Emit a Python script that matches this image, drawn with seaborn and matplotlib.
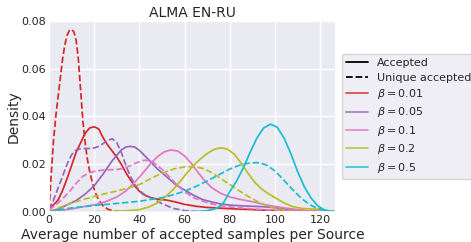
import pandas as pd
import matplotlib
matplotlib.use('Agg')
import matplotlib.pyplot as plt
from matplotlib.lines import Line2D
import seaborn as sns

# curves (density vs avg number of accepted samples)
betas = ['0.01', '0.05', '0.1', '0.2', '0.5']
colors = ['#d62728', '#9467bd', '#e377c2', '#bcbd22', '#17becf']

# beta = 0.01
acc_001_x = [0, 2, 4, 6, 8, 10, 12, 14, 16, 18, 20, 22, 24, 26, 28, 30, 32, 34, 36, 38, 40, 42, 45, 48, 52,
             56, 60, 65, 70, 80, 90, 100, 110, 120, 127]
acc_001_y = [.0015, .003, .005, .009, .014, .0195, .025, .029, .033, .0352, .0357, .0348, .031, .028, .0255, .023,
             .020, .0165, .0135, .0108, .0087, .0072, .006, .0054, .005, .0042, .0032, .0024, .0019, .0014, .001,
             .0006, .0003, .0001, 0]
uniq_001_x = [0, 1, 2, 3, 4, 5, 6, 7, 8, 9, 10, 11, 12, 13, 14, 15, 16, 17, 18, 19, 20, 21, 22, 24, 26, 28, 30, 35]
uniq_001_y = [.001, .016, .030, .040, .048, .056, .064, .070, .074, .076, .0765, .0755, .072, .064, .051, .038,
              .029, .022, .017, .013, .0095, .007, .005, .0025, .0012, .0006, .0003, 0]

# beta = 0.05
acc_005_x = [0, 4, 8, 12, 16, 20, 24, 28, 32, 34, 36, 38, 40, 44, 48, 52, 56, 60, 64, 68, 72, 76, 80, 85, 90,
             95, 100, 105, 110, 115, 120, 127]
acc_005_y = [.0003, .0012, .003, .0048, .0075, .011, .016, .0215, .026, .0272, .0275, .0272, .0258, .022, .018,
             .0148, .0115, .0092, .007, .0052, .0042, .0034, .0029, .0026, .0024, .0022, .0018, .0012, .0007,
             .0003, .0001, 0]
uniq_005_x = [0, 2, 4, 6, 8, 10, 12, 14, 16, 18, 20, 22, 24, 26, 28, 30, 32, 34, 36, 38, 40, 43, 46, 50, 55,
              60, 65, 70]
uniq_005_y = [.001, .005, .010, .015, .020, .024, .026, .0265, .0266, .0266, .0268, .0275, .0287, .030, .0307,
              .029, .025, .0195, .015, .0115, .009, .0068, .0055, .0035, .0015, .0006, .0002, 0]

# beta = 0.1
acc_01_x = [0, 5, 10, 15, 20, 25, 30, 34, 38, 42, 45, 48, 51, 54, 57, 60, 63, 66, 69, 72, 76, 80, 85, 90, 95,
            100, 105, 110, 115, 120, 127]
acc_01_y = [0, .0006, .0013, .0022, .003, .0043, .0063, .0088, .0125, .0168, .0203, .0232, .0252, .026, .0255,
            .0235, .0203, .0165, .013, .0102, .0078, .0063, .0052, .0043, .0032, .0023, .0016, .001, .0006,
            .0003, 0]
uniq_01_x = [0, 3, 6, 9, 12, 15, 18, 21, 24, 27, 30, 33, 36, 39, 42, 45, 48, 51, 54, 57, 60, 64, 68, 72, 76,
             80, 85, 90, 95, 100, 105, 110, 120, 127]
uniq_01_y = [.0008, .003, .0055, .0085, .012, .015, .0165, .0172, .0176, .0177, .0178, .0183, .0194, .0207,
             .0217, .0215, .0195, .017, .014, .011, .0085, .006, .0045, .0034, .0026, .0021, .0017, .0013,
             .001, .0007, .0005, .0003, .0001, 0]

# beta = 0.2
acc_02_x = [0, 10, 20, 30, 36, 40, 44, 48, 52, 55, 58, 61, 64, 67, 70, 73, 76, 79, 82, 85, 88, 91, 94, 97,
            100, 104, 108, 112, 116, 120, 124, 127]
acc_02_y = [0, 0, .0001, .0003, .0006, .001, .002, .0038, .0068, .0095, .0128, .0163, .0195, .0222, .0245,
            .0262, .0269, .0263, .0242, .0205, .0163, .0125, .0097, .0077, .006, .0038, .0022, .0015, .0013,
            .0011, .0005, .0002]
uniq_02_x = [0, 5, 10, 15, 20, 25, 30, 35, 40, 45, 50, 55, 60, 64, 68, 72, 76, 80, 84, 88, 92, 96, 100, 105,
             110, 120]
uniq_02_y = [0, .002, .0037, .0052, .0065, .0077, .0088, .01, .0115, .014, .0163, .018, .0189, .019, .0183,
             .0165, .014, .0115, .009, .0066, .0045, .0028, .0015, .0006, .0002, 0]

# beta = 0.5
acc_05_x = [0, 20, 40, 55, 60, 65, 70, 74, 77, 80, 83, 86, 89, 92, 95, 98, 101, 104, 107, 110, 113, 116, 119,
            122, 125, 127]
acc_05_y = [0, 0, 0, 0, .0001, .0002, .0005, .0015, .0035, .0085, .013, .0185, .025, .031, .0352, .0368,
            .0355, .031, .0245, .017, .0105, .0058, .0025, .0008, .0002, 0]
uniq_05_x = [0, 5, 10, 20, 30, 40, 50, 55, 60, 65, 70, 75, 80, 84, 88, 92, 96, 100, 103, 106, 109, 112, 115,
             118, 121, 124, 127]
uniq_05_y = [0, .001, .0017, .0027, .0036, .0045, .006, .0072, .0087, .0107, .013, .0155, .018, .0195, .0204,
             .0207, .0198, .0172, .0143, .0112, .0082, .0055, .0033, .0018, .0009, .0004, .0001]

curves = [
    ('0.01', 'Accepted', acc_001_x, acc_001_y), ('0.01', 'Unique accepted', uniq_001_x, uniq_001_y),
    ('0.05', 'Accepted', acc_005_x, acc_005_y), ('0.05', 'Unique accepted', uniq_005_x, uniq_005_y),
    ('0.1', 'Accepted', acc_01_x, acc_01_y), ('0.1', 'Unique accepted', uniq_01_x, uniq_01_y),
    ('0.2', 'Accepted', acc_02_x, acc_02_y), ('0.2', 'Unique accepted', uniq_02_x, uniq_02_y),
    ('0.5', 'Accepted', acc_05_x, acc_05_y), ('0.5', 'Unique accepted', uniq_05_x, uniq_05_y),
]

rows = []
for beta, kind, xs, ys in curves:
    for x, y in zip(xs, ys):
        rows.append({'x': x, 'density': y, 'beta': beta, 'kind': kind})
df = pd.DataFrame(rows)

sns.set_theme(style='darkgrid')
fig = plt.figure(figsize=(4.71, 2.42), dpi=100)
ax = fig.add_axes([49 / 471, 1 - 212 / 242, 287 / 471, 191 / 242])

sns.lineplot(data=df, x='x', y='density', hue='beta', style='kind', hue_order=betas,
             palette=colors, style_order=['Accepted', 'Unique accepted'],
             dashes={'Accepted': '', 'Unique accepted': (3.7, 1.6)},
             estimator=None, linewidth=1.25, legend=False, ax=ax)

ax.set_xlim(0, 127)
ax.set_ylim(0, 0.08)
ax.set_xticks([0, 20, 40, 60, 80, 100, 120])
ax.set_yticks([0, 0.02, 0.04, 0.06, 0.08])
ax.set_yticklabels(['0.00', '0.02', '0.04', '0.06', '0.08'])
ax.tick_params(labelsize=8, length=0, pad=2)
ax.set_title('ALMA EN-RU', fontsize=10, pad=3)
ax.set_xlabel('Average number of accepted samples per Source', fontsize=10)
ax.set_ylabel('Density', fontsize=10)
ax.xaxis.set_label_coords(0.5, -0.084)
ax.yaxis.set_label_coords(-0.10, 0.5)

handles = [Line2D([], [], color='black', lw=1.3),
           Line2D([], [], color='black', lw=1.3, linestyle='--')]
labels = ['Accepted', 'Unique accepted']
for b, c in zip(betas, colors):
    handles.append(Line2D([], [], color=c, lw=1.3, alpha=0.8))
    labels.append(r'$\beta = %s$' % b)
ax.legend(handles, labels, loc='center left', bbox_to_anchor=(1.0, 0.5), fontsize=8,
          labelspacing=0.4, frameon=True)

fig.savefig('out.png', dpi=100)
